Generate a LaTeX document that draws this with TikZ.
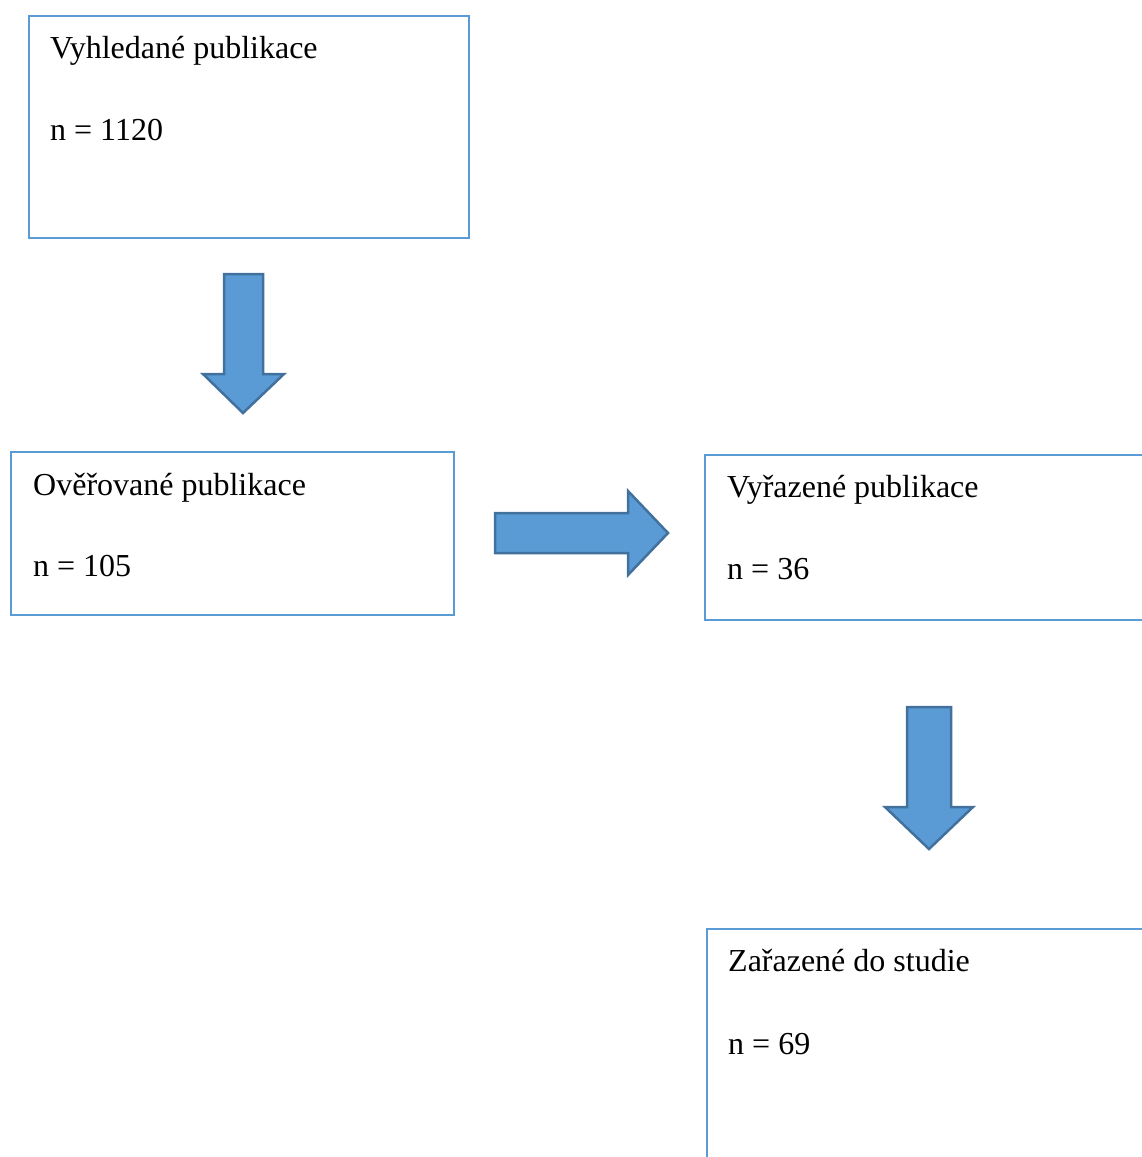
\documentclass[tikz,border=0pt]{standalone}
\usepackage{fontspec}
\setmainfont{Liberation Serif}
\begin{document}
\begin{tikzpicture}[x=1pt,y=-1pt,
  box/.style={draw=boxblue, line width=2.5pt, fill=white, anchor=north west, inner sep=0pt, outer sep=0pt},
  lbl/.style={anchor=base west, inner sep=0pt, font=\fontsize{32}{38}\selectfont},
  blockarrow/.style={fill=arrowfill, draw=arrowedge, line width=2.5pt, line join=miter}]
\definecolor{boxblue}{HTML}{5B9BD5}
\definecolor{arrowfill}{HTML}{5B9BD5}
\definecolor{arrowedge}{HTML}{41719C}
\useasboundingbox (0,0) rectangle (1142,1157);
\clip (0,0) rectangle (1142,1157);
\fill[white] (0,0) rectangle (1142,1157);
% boxes
\node[box, minimum width=440pt, minimum height=222pt] (b1) at (29,16) {};
\node[box, minimum width=443pt, minimum height=163pt] (b2) at (11,452) {};
\node[box, minimum width=480pt, minimum height=165pt] (b3) at (705,455) {};
\node[box, minimum width=480pt, minimum height=260pt] (b4) at (707,929) {};
% labels
\node[lbl] (t1a) at (50,58) {Vyhledané publikace};
\node[lbl] (t1b) at (50,140) {n = 1120};
\node[lbl] (t2a) at (33,495) {Ověřované publikace};
\node[lbl] (t2b) at (33,576) {n = 105};
\node[lbl] (t3a) at (727,497) {Vyřazené publikace};
\node[lbl] (t3b) at (727,579) {n = 36};
\node[lbl] (t4a) at (728,971) {Zařazené do studie};
\node[lbl] (t4b) at (728,1054) {n = 69};
% block arrows
\draw[blockarrow] (224,274) -- (263,274) -- (263,374) -- (284,374) -- (243,413) -- (203,374) -- (224,374) -- cycle;
\draw[blockarrow] (495,513) -- (628,513) -- (628,491) -- (668,533) -- (628,575) -- (628,553) -- (495,553) -- cycle;
\draw[blockarrow] (907,707) -- (951,707) -- (951,807) -- (973,807) -- (929,849) -- (885,807) -- (907,807) -- cycle;
\end{tikzpicture}
\end{document}
